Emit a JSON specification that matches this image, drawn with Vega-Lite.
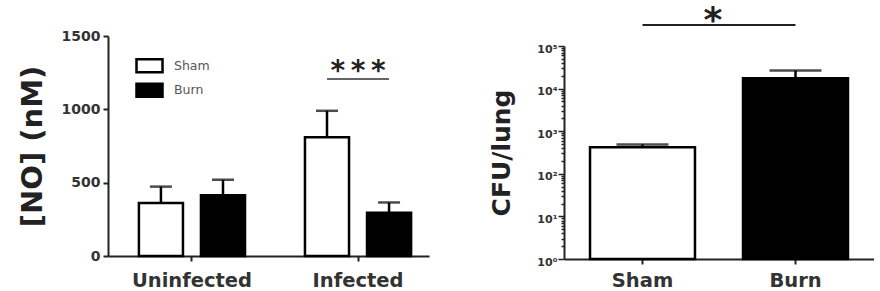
{
  "$schema": "https://vega.github.io/schema/vega-lite/v6.json",
  "padding": {"left": 18, "top": 3, "right": 0, "bottom": 0},
  "background": "white",
  "config": {
    "font": "DejaVu Sans",
    "view": {"stroke": null},
    "axis": {
      "grid": false,
      "domainColor": "#222",
      "domainWidth": 2,
      "tickColor": "#222",
      "tickWidth": 2,
      "labelColor": "#333",
      "labelFontWeight": "bold",
      "titleColor": "#222",
      "titleFontWeight": "bold"
    }
  },
  "resolve": {"scale": {"fill": "independent"}, "legend": {"fill": "independent"}},
  "spacing": 60,
  "hconcat": [
    {
      "width": 321,
      "height": 220,
      "data": {"values": [
        {"group": "Uninfected", "condition": "Sham", "mean": 362, "upper": 473},
        {"group": "Uninfected", "condition": "Burn", "mean": 415, "upper": 520},
        {"group": "Infected", "condition": "Sham", "mean": 810, "upper": 990},
        {"group": "Infected", "condition": "Burn", "mean": 295, "upper": 365}
      ]},
      "encoding": {
        "x": {
          "field": "group", "type": "nominal",
          "scale": {"domain": ["Uninfected", "Infected"], "paddingInner": 0.361, "paddingOuter": 0.147, "align": 0.633},
          "axis": {"title": null, "labelAngle": 0, "labelFontSize": 19.5, "labelPadding": 10, "tickSize": 5}
        }
      },
      "layer": [
        {
          "mark": {"type": "bar", "stroke": "black", "strokeWidth": 2.5},
          "encoding": {
            "xOffset": {"field": "condition", "type": "nominal", "scale": {"domain": ["Sham", "Burn"], "paddingInner": 0.29, "paddingOuter": 0}},
            "y": {
              "field": "mean", "type": "quantitative", "stack": null,
              "scale": {"domain": [0, 1500], "nice": false},
              "axis": {"title": "[NO] (nM)", "values": [0, 500, 1000, 1500], "format": "d", "tickSize": 5, "labelFontSize": 14, "labelPadding": 3,
                       "titleFontSize": 29, "titlePadding": 14}
            },
            "fill": {
              "field": "condition", "type": "nominal",
              "scale": {"domain": ["Sham", "Burn"], "range": ["white", "black"]},
              "legend": {"title": null, "orient": "none", "legendX": 33.5, "legendY": 21.75, "padding": 0,
                         "symbolType": "M-2,-1H2V1H-2Z", "symbolSize": 169, "symbolStrokeColor": "black", "symbolStrokeWidth": 2.5,
                         "labelFontSize": 12.5, "labelColor": "#555", "labelOffset": 16.5, "rowPadding": 0.5}
            }
          }
        },
        {
          "mark": {"type": "rule", "strokeWidth": 2.5, "color": "black"},
          "encoding": {
            "xOffset": {"field": "condition", "type": "nominal"},
            "y": {"field": "mean", "type": "quantitative"},
            "y2": {"field": "upper"}
          }
        },
        {
          "mark": {"type": "tick", "size": 22, "thickness": 2.5, "color": "black", "orient": "horizontal"},
          "encoding": {
            "xOffset": {"field": "condition", "type": "nominal"},
            "y": {"field": "upper", "type": "quantitative"}
          }
        },
        {
          "data": {"values": [{}]},
          "mark": {"type": "tick", "size": 62, "thickness": 2, "color": "#222", "orient": "horizontal"},
          "encoding": {"x": {"datum": "Infected"}, "y": {"datum": 1207}}
        },
        {
          "data": {"values": [{}]},
          "mark": {"type": "text", "text": "*\u2009*\u2009*", "fontSize": 28, "fontWeight": "bold", "baseline": "alphabetic", "color": "#222"},
          "encoding": {"x": {"datum": "Infected"}, "y": {"datum": 1203}}
        }
      ]
    },
    {
      "width": 310,
      "height": 223,
      "data": {"values": [
        {"condition": "Sham", "mean": 420, "upper": 490},
        {"condition": "Burn", "mean": 17500, "upper": 26500}
      ]},
      "encoding": {
        "x": {
          "field": "condition", "type": "nominal",
          "scale": {"domain": ["Sham", "Burn"], "paddingInner": 0.314, "paddingOuter": 0.17},
          "axis": {"title": null, "labelAngle": 0, "labelFontSize": 19.5, "labelPadding": 7, "tickSize": 5}
        }
      },
      "layer": [
        {
          "mark": {"type": "bar", "stroke": "black", "strokeWidth": 2.5},
          "encoding": {
            "y": {
              "field": "mean", "type": "quantitative", "stack": null,
              "scale": {"type": "log", "domain": [1, 100000], "range": [223, 10], "nice": false},
              "axis": {
                "title": "CFU/lung", "titleFontSize": 25, "titlePadding": 22,
                "values": [1,2,3,4,5,6,7,8,9,10,20,30,40,50,60,70,80,90,100,200,300,400,500,600,700,800,900,1000,2000,3000,4000,5000,6000,7000,8000,9000,10000,20000,30000,40000,50000,60000,70000,80000,90000,100000],
                "labelExpr": "abs(log(datum.value)/LN10 - round(log(datum.value)/LN10)) < 0.000001 ? '10' + ['⁰','¹','²','³','⁴','⁵'][round(log(datum.value)/LN10)] : ''",
                "tickSize": {"condition": {"test": "abs(log(datum.value)/LN10 - round(log(datum.value)/LN10)) < 0.000001", "value": 6}, "value": 3},
                "tickWidth": 1.5,
                "labelFontSize": 11, "labelPadding": 1, "labelOffset": 3, "labelOverlap": false
              }
            },
            "fill": {
              "field": "condition", "type": "nominal",
              "scale": {"domain": ["Sham", "Burn"], "range": ["white", "black"]},
              "legend": null
            }
          }
        },
        {
          "mark": {"type": "rule", "strokeWidth": 2.5, "color": "black"},
          "encoding": {
            "y": {"field": "mean", "type": "quantitative"},
            "y2": {"field": "upper"}
          }
        },
        {
          "mark": {"type": "tick", "size": 52, "thickness": 2.5, "color": "black", "orient": "horizontal"},
          "encoding": {
            "y": {"field": "upper", "type": "quantitative"}
          }
        },
        {
          "data": {"values": [{}]},
          "mark": {"type": "rule", "strokeWidth": 2, "color": "#222"},
          "encoding": {"x": {"datum": "Sham"}, "x2": {"datum": "Burn"}, "y": {"datum": 311000}}
        },
        {
          "data": {"values": [{}]},
          "mark": {"type": "text", "text": "*", "fontSize": 36, "fontWeight": "bold", "baseline": "alphabetic", "color": "#222"},
          "encoding": {"x": {"datum": "Burn", "bandPosition": -0.286}, "y": {"datum": 211000}}
        }
      ]
    }
  ]
}
